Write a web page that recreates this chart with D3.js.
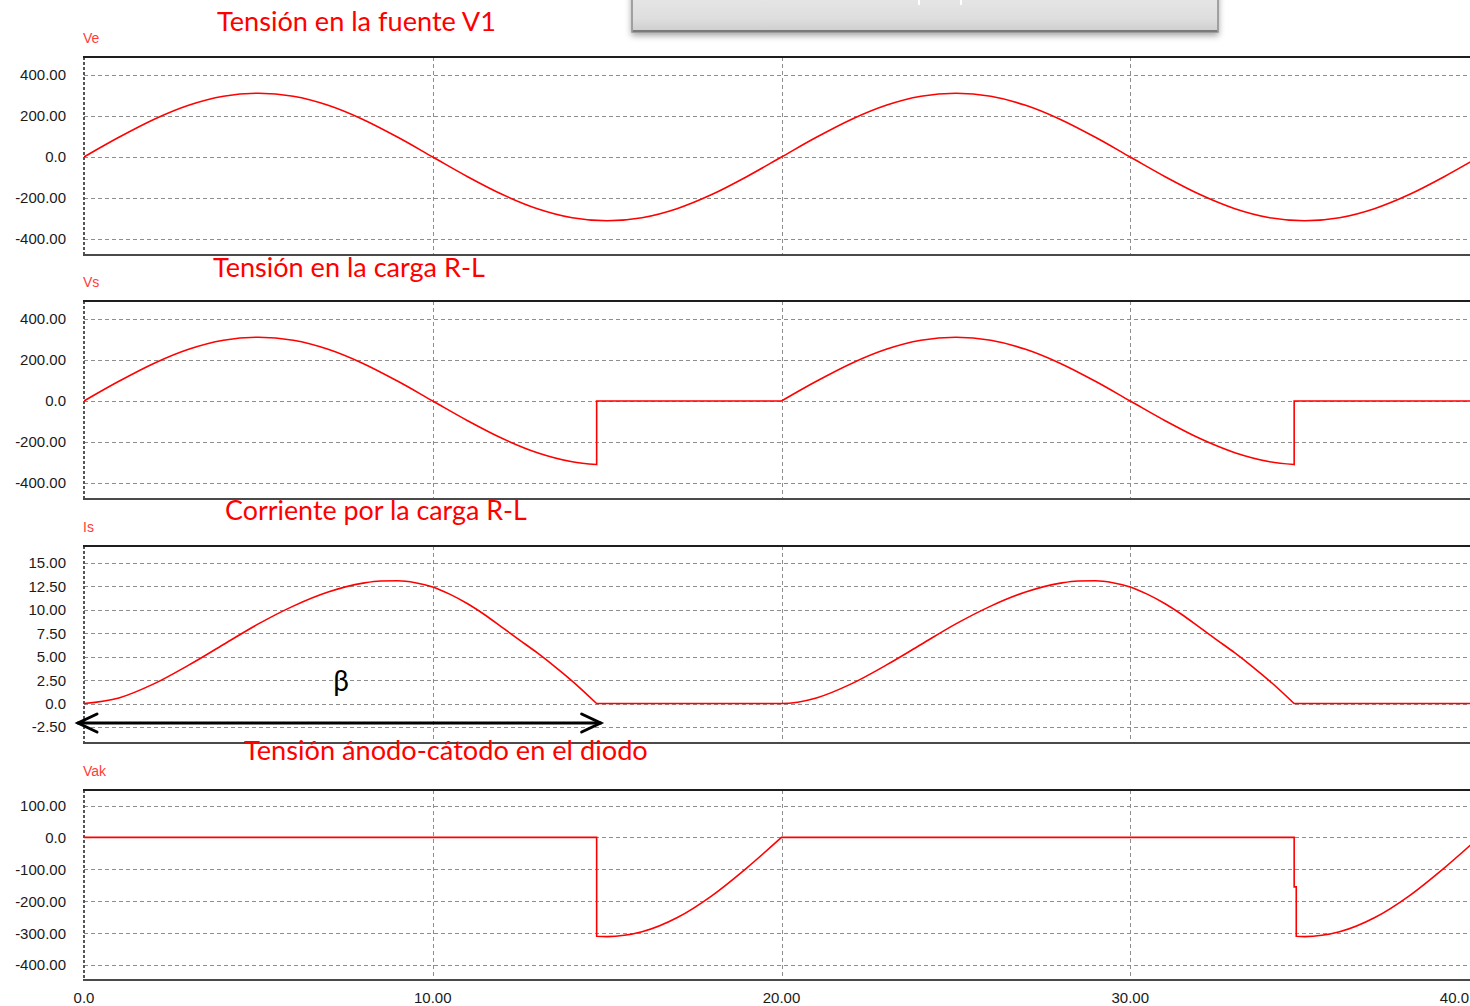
<!DOCTYPE html>
<html>
<head>
<meta charset="utf-8">
<script src="https://cdn.jsdelivr.net/npm/d3@7"></script>
<style>
  html, body { margin: 0; padding: 0; background: #fff; overflow: hidden; }
  svg { display: block; }
</style>
</head>
<body>
<svg id="chart" width="1470" height="1006"></svg>
<script>
// ---- Data (time in ms) -------------------------------------------------
const timeTicks = [0, 10, 20, 30, 40];
const timeTickLabels = ["0.0", "10.00", "20.00", "30.00", "40.0"];

const veTicks = [400, 200, 0, -200, -400];
const veTickLabels = ["400.00", "200.00", "0.0", "-200.00", "-400.00"];
const vsTicks = [400, 200, 0, -200, -400];
const vsTickLabels = ["400.00", "200.00", "0.0", "-200.00", "-400.00"];
const isTicks = [15, 12.5, 10, 7.5, 5, 2.5, 0, -2.5];
const isTickLabels = ["15.00", "12.50", "10.00", "7.50", "5.00", "2.50", "0.0", "-2.50"];
const vakTicks = [100, 0, -100, -200, -300, -400];
const vakTickLabels = ["100.00", "0.0", "-100.00", "-200.00", "-300.00", "-400.00"];

const panelNames = ["Ve", "Vs", "Is", "Vak"];
const panelTitles = [
  "Tensión en la fuente V1",
  "Tensión en la carga R-L",
  "Corriente por la carga R-L",
  "Tensión ánodo-cátodo en el diodo"
];

// Source voltage V1
const vePoints = [
  [0, 0], [1, 96], [2, 183], [3, 252], [4, 296], [5, 311], [6, 296], [7, 252], [8, 183], [9, 96],
  [10, 0], [11, -96], [12, -183], [13, -252], [14, -296], [15, -311], [16, -296], [17, -252], [18, -183], [19, -96],
  [20, 0], [21, 96], [22, 183], [23, 252], [24, 296], [25, 311], [26, 296], [27, 252], [28, 183], [29, 96],
  [30, 0], [31, -96], [32, -183], [33, -252], [34, -296], [35, -311], [36, -296], [37, -252], [38, -183], [39, -96],
  [40, 0]
];

// Load voltage (R-L); a repeated time marks a step or a sharp corner
const vsPoints = [
  [0, 0], [1, 96], [2, 183], [3, 252], [4, 296], [5, 311], [6, 296], [7, 252], [8, 183], [9, 96],
  [10, 0], [11, -96], [12, -183], [13, -252], [14, -296], [14.7, -310],
  [14.7, 0], [17, 0], [20, 0],
  [20, 0], [21, 96], [22, 183], [23, 252], [24, 296], [25, 311], [26, 296], [27, 252], [28, 183], [29, 96],
  [30, 0], [31, -96], [32, -183], [33, -252], [34, -296], [34.7, -310],
  [34.7, 0], [37, 0], [40, 0]
];

// Load current
const isPoints = [
  [0, 0], [1, 0.6], [2, 2.1], [3, 4.1], [4, 6.3], [5, 8.5], [6, 10.4], [7, 11.9], [8, 12.85], [8.5, 13.08],
  [9, 13.1], [9.5, 12.9], [10, 12.45], [10.5, 11.65], [11, 10.65], [11.5, 9.45], [12, 8.1], [12.5, 6.75],
  [13, 5.4], [13.5, 3.95], [14, 2.4], [14.7, 0],
  [14.7, 0], [16, 0], [18, 0], [20, 0],
  [21, 0.6], [22, 2.1], [23, 4.1], [24, 6.3], [25, 8.5], [26, 10.4], [27, 11.9], [28, 12.85], [28.5, 13.08],
  [29, 13.1], [29.5, 12.9], [30, 12.45], [30.5, 11.65], [31, 10.65], [31.5, 9.45], [32, 8.1], [32.5, 6.75],
  [33, 5.4], [33.5, 3.95], [34, 2.4], [34.7, 0],
  [34.7, 0], [36, 0], [38, 0], [40, 0]
];

// Diode anode-cathode voltage
const vakPoints = [
  [0, 0], [7, 0], [14.7, 0],
  [14.7, -310], [15, -311], [16, -296], [17, -252], [18, -183], [19, -96], [20, 0],
  [20, 0], [27, 0], [34.7, 0],
  [34.7, -155], [34.76, -155],
  [34.76, -310], [35, -311], [36, -296], [37, -252], [38, -183], [39, -96], [40, 0]
];

// Conduction angle (extinction time, ms)
const betaLabel = "β";
const betaTime = 14.7;

// ---- Layout ------------------------------------------------------------
const W = 1470, H = 1006;
const svg = d3.select("#chart");
const plotLeft = 84, plotRight = 1470;
const x = d3.scaleLinear().domain([0, 40]).range([84, 1479]);
const gridColor = "#8e8e8e";

const panels = [
  { name: panelNames[0], title: panelTitles[0], points: vePoints, ticks: veTicks, labels: veTickLabels,
    domain: [-400, 400], range: [239, 75], top: 57, bottom: 255,
    titleX: 217, titleY: 31, titleW: 279 },
  { name: panelNames[1], title: panelTitles[1], points: vsPoints, ticks: vsTicks, labels: vsTickLabels,
    domain: [-400, 400], range: [483, 319], top: 301, bottom: 499,
    titleX: 213, titleY: 277, titleW: 272 },
  { name: panelNames[2], title: panelTitles[2], points: isPoints, ticks: isTicks, labels: isTickLabels,
    domain: [-2.5, 15], range: [727, 563], top: 546, bottom: 743,
    titleX: 225, titleY: 520, titleW: 302 },
  { name: panelNames[3], title: panelTitles[3], points: vakPoints, ticks: vakTicks, labels: vakTickLabels,
    domain: [-400, 100], range: [965, 805.5], top: 790, bottom: 980,
    titleX: 244, titleY: 760, titleW: 404 }
];

const defs = svg.append("defs");

// header box shading
const grad = defs.append("linearGradient").attr("id", "boxFill")
  .attr("x1", 0).attr("y1", 0).attr("x2", 0).attr("y2", 1);
grad.append("stop").attr("offset", "0%").attr("stop-color", "#e9e9e9");
grad.append("stop").attr("offset", "70%").attr("stop-color", "#dedede");
grad.append("stop").attr("offset", "100%").attr("stop-color", "#cdcdcd");
const shadow = defs.append("filter").attr("id", "boxShadow")
  .attr("x", "-5%").attr("y", "-50%").attr("width", "110%").attr("height", "220%");
shadow.append("feDropShadow").attr("dx", 0).attr("dy", 3).attr("stdDeviation", 3)
  .attr("flood-color", "#000").attr("flood-opacity", 0.35);

svg.append("rect").attr("x", 0).attr("y", 0).attr("width", W).attr("height", H).attr("fill", "#fff");

// header box partly off the top edge
const box = svg.append("g");
box.append("rect")
  .attr("x", 632).attr("y", -12).attr("width", 586).attr("height", 44)
  .attr("fill", "url(#boxFill)").attr("stroke", "#8c8c8c").attr("stroke-width", 1.5)
  .attr("filter", "url(#boxShadow)");
box.append("line").attr("x1", 633).attr("x2", 1217).attr("y1", 31).attr("y2", 31)
  .attr("stroke", "#7a7a7a").attr("stroke-width", 2);
[919, 961].forEach(px => {
  box.append("rect").attr("x", px - 1).attr("y", 0).attr("width", 2).attr("height", 5).attr("fill", "#fff");
});

const lineGen = d3.line().curve(d3.curveMonotoneX);

// Build one path: smooth runs joined by straight steps where a time repeats
function seriesPath(points, y) {
  const runs = [];
  let cur = [];
  points.forEach((p, i) => {
    if (i > 0 && p[0] === points[i - 1][0]) { runs.push(cur); cur = []; }
    cur.push([x(p[0]), y(p[1])]);
  });
  runs.push(cur);
  return runs.map((r, i) => {
    let d = r.length > 1 ? lineGen(r) : `M${r[0][0]},${r[0][1]}`;
    return i === 0 ? d : "L" + d.slice(1);
  }).join("");
}

panels.forEach((p, idx) => {
  const y = d3.scaleLinear().domain(p.domain).range(p.range);
  const g = svg.append("g");

  const clipId = "clip" + idx;
  defs.append("clipPath").attr("id", clipId).append("rect")
    .attr("x", plotLeft).attr("y", p.top).attr("width", plotRight - plotLeft).attr("height", p.bottom - p.top);

  // horizontal grid
  g.selectAll(".hgrid").data(p.ticks).join("line")
    .attr("x1", plotLeft).attr("x2", plotRight)
    .attr("y1", d => Math.round(y(d)) + 0.5).attr("y2", d => Math.round(y(d)) + 0.5)
    .attr("stroke", gridColor).attr("stroke-width", 1).attr("stroke-dasharray", "4,3");

  // vertical grid
  g.selectAll(".vgrid").data(timeTicks.filter(t => t > 0 && t < 40)).join("line")
    .attr("x1", d => Math.round(x(d)) + 0.5).attr("x2", d => Math.round(x(d)) + 0.5)
    .attr("y1", p.top).attr("y2", p.bottom)
    .attr("stroke", gridColor).attr("stroke-width", 1).attr("stroke-dasharray", "4,3");

  // left edge (dashed), top and bottom frame
  g.append("line").attr("x1", plotLeft).attr("x2", plotLeft).attr("y1", p.top).attr("y2", p.bottom)
    .attr("stroke", "#555").attr("stroke-width", 2).attr("stroke-dasharray", "3,2");
  g.append("line").attr("x1", plotLeft - 1).attr("x2", plotRight).attr("y1", p.top).attr("y2", p.top)
    .attr("stroke", "#1e1e1e").attr("stroke-width", 2);
  g.append("line").attr("x1", plotLeft - 1).attr("x2", plotRight).attr("y1", p.bottom).attr("y2", p.bottom)
    .attr("stroke", "#4a4a4a").attr("stroke-width", 2);

  // tick labels
  g.selectAll(".tick").data(p.ticks).join("text")
    .attr("x", 66).attr("y", d => y(d)).attr("dy", "0.36em")
    .attr("text-anchor", "end")
    .attr("font-family", "'Liberation Sans', Arial, sans-serif").attr("font-size", 15)
    .attr("fill", "#1a1a1a")
    .text((d, i) => p.labels[i]);

  // channel name
  g.append("text").attr("x", 83).attr("y", p.top - 14)
    .attr("font-family", "'Liberation Sans', Arial, sans-serif").attr("font-size", 14)
    .attr("fill", "#ff3b3b").text(p.name);

  // waveform
  g.append("path")
    .attr("clip-path", `url(#${clipId})`)
    .attr("d", seriesPath(p.points, y))
    .attr("fill", "none").attr("stroke", "#ff0000").attr("stroke-width", 1.6)
    .attr("stroke-linejoin", "miter");

  p.yScale = y;
});

// time axis labels (the last one sits against the right edge)
svg.selectAll(".xlab").data(timeTicks).join("text")
  .attr("x", d => d === 40 ? W - 1 : x(d)).attr("y", 1003)
  .attr("text-anchor", d => d === 40 ? "end" : "middle")
  .attr("font-family", "'Liberation Sans', Arial, sans-serif").attr("font-size", 15)
  .attr("fill", "#1a1a1a")
  .text((d, i) => timeTickLabels[i]);

// panel titles
panels.forEach(p => {
  const t = svg.append("text").attr("x", p.titleX).attr("y", p.titleY)
    .attr("font-family", "Lato, 'Noto Sans', sans-serif").attr("font-size", 26)
    .attr("fill", "#ff0000").text(p.title);
  const w = t.node().getComputedTextLength();
  if (w > 0) t.attr("font-size", 26 * p.titleW / w);
});

// conduction interval arrow in the current panel
const arrowY = 723;
const aL = x(0) - 6, aR = x(betaTime) + 4;
const arrow = svg.append("g").attr("stroke", "#000").attr("stroke-width", 3).attr("fill", "none")
  .attr("stroke-linecap", "round").attr("stroke-linejoin", "miter");
arrow.append("line").attr("x1", aL).attr("x2", aR).attr("y1", arrowY).attr("y2", arrowY);
arrow.append("path").attr("d", `M${aL + 19},${arrowY - 9}L${aL},${arrowY}L${aL + 19},${arrowY + 9}`);
arrow.append("path").attr("d", `M${aR - 19},${arrowY - 9}L${aR},${arrowY}L${aR - 19},${arrowY + 9}`);

svg.append("text").attr("x", 341).attr("y", 691).attr("text-anchor", "middle")
  .attr("font-family", "Lato, 'Noto Sans', sans-serif").attr("font-size", 28)
  .attr("fill", "#000").text(betaLabel);
</script>
</body>
</html>
